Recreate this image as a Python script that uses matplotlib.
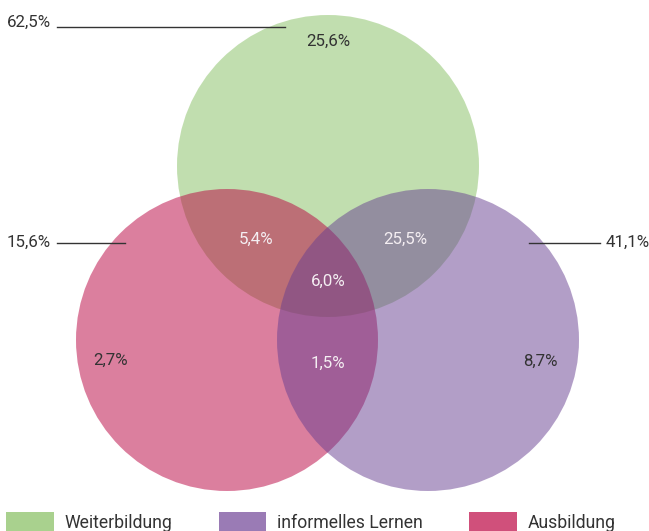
import matplotlib.pyplot as plt
from matplotlib.patches import Circle, Patch

plt.rcParams['font.family'] = ['Roboto', 'DejaVu Sans']

# sets of the venn diagram
set_names = ["Weiterbildung", "informelles Lernen", "Ausbildung"]
legend_colors = ["#a9d18e", "#9a7bb5", "#d0507b"]
circle_colors = ["#85bf61", "#673f91", "#b9013f"]
set_totals = ["62,5%", "41,1%", "15,6%"]

# region values
only_weiter = "25,6%"
only_informell = "8,7%"
only_ausbildung = "2,7%"
weiter_ausbildung = "5,4%"
weiter_informell = "25,5%"
informell_ausbildung = "1,5%"
all_three = "6,0%"

fig = plt.figure(figsize=(6.49, 5.31), dpi=100)
ax = fig.add_axes([0, 0, 1, 1])
ax.set_xlim(0, 649)
ax.set_ylim(531, 0)
ax.axis("off")

# circle layout in pixel coordinates (draw order: green, red, purple)
centers = [(328, 166), (428, 340), (227, 340)]
radius = 151
for i in [0, 2, 1]:
  ax.add_patch(Circle(centers[i], radius, facecolor=circle_colors[i], edgecolor="none", alpha=0.5))

dark = "#333333"
light = "#f4eef2"
fs = 12.2
ax.text(328, 41, only_weiter, ha="center", va="center", fontsize=fs, color=dark)
ax.text(540, 361, only_informell, ha="center", va="center", fontsize=fs, color=dark)
ax.text(111, 360, only_ausbildung, ha="center", va="center", fontsize=fs, color=dark)
ax.text(256, 239, weiter_ausbildung, ha="center", va="center", fontsize=fs, color=light)
ax.text(405, 239, weiter_informell, ha="center", va="center", fontsize=fs, color=light)
ax.text(328, 363, informell_ausbildung, ha="center", va="center", fontsize=fs, color=light)
ax.text(328, 281, all_three, ha="center", va="center", fontsize=fs, color=light)

# leader lines with set totals
ax.plot([57, 285], [27, 27], color="#333333", lw=1)
ax.text(7, 27, set_totals[0], ha="left", va="baseline", fontsize=fs, color=dark)
ax.plot([529, 600], [243, 243], color="#333333", lw=1)
ax.text(606, 247, set_totals[1], ha="left", va="baseline", fontsize=fs, color=dark)
ax.plot([57, 125], [243, 243], color="#333333", lw=1)
ax.text(7, 247, set_totals[2], ha="left", va="baseline", fontsize=fs, color=dark)

handles = [Patch(facecolor=c, edgecolor="none") for c in legend_colors]
leg = fig.legend(handles, set_names, ncol=3, loc="upper left",
                 bbox_to_anchor=(6 / 649, 1 - 512 / 531), frameon=False,
                 borderpad=0, borderaxespad=0, handlelength=2.7, handleheight=1.4,
                 handletextpad=0.6, columnspacing=2.65,
                 prop={"size": 12.7})
for t in leg.get_texts():
  t.set_color("#333333")

fig.savefig("out.png", dpi=100)
